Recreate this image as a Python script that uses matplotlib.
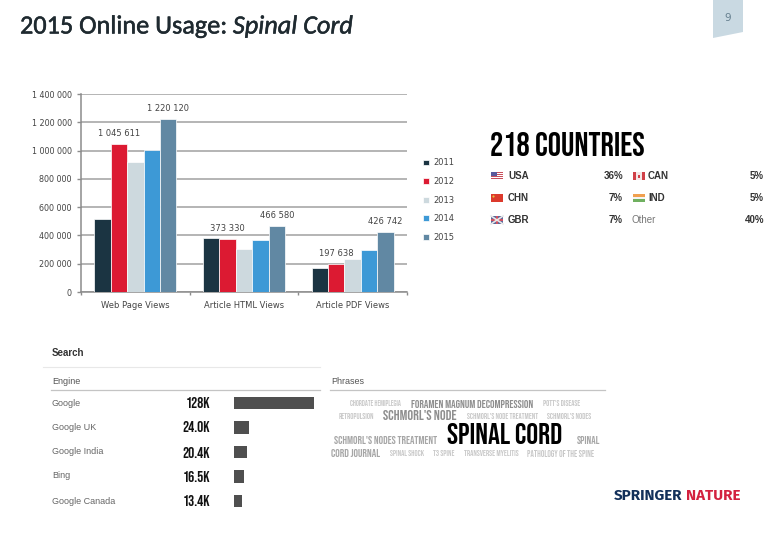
import matplotlib
matplotlib.use("Agg")
import matplotlib.pyplot as plt
import matplotlib.patheffects as pe
import numpy as np
from matplotlib.patches import Polygon, Rectangle, Circle
from matplotlib.ticker import FuncFormatter

W, H = 780, 540

# main chart
categories = ["Web Page Views", "Article HTML Views", "Article PDF Views"]
years = ["2011", "2012", "2013", "2014", "2015"]
views_2011 = [515000, 385000, 172000]
views_2012 = [1045611, 373330, 197638]
views_2013 = [920000, 305000, 235000]
views_2014 = [1005000, 365000, 298000]
views_2015 = [1220120, 466580, 426742]
y_ticks = [0, 200000, 400000, 600000, 800000, 1000000, 1200000, 1400000]
bar_colors = ["#1b3442", "#dc1a32", "#cdd9de", "#3d99d6", "#6188a3"]

# countries
country_title = "218 COUNTRIES"
countries_left = ["USA", "CHN", "GBR"]
shares_left = ["36%", "7%", "7%"]
countries_right = ["CAN", "IND", "Other"]
shares_right = ["5%", "5%", "40%"]

# search engines
engines = ["Google", "Google UK", "Google India", "Bing", "Google Canada"]
engine_hits = [128.0, 24.0, 20.4, 16.5, 13.4]
engine_labels = ["128K", "24.0K", "20.4K", "16.5K", "13.4K"]

# phrases, one list per row of the cloud
phrases_row1 = ["CHORDATE HEMIPLEGIA", "FORAMEN MAGNUM DECOMPRESSION", "POTT'S DISEASE"]
phrases_row2 = ["RETROPULSION", "SCHMORL'S NODE", "SCHMORL'S NODE TREATMENT", "SCHMORL'S NODES"]
phrases_row3 = ["SCHMORL'S NODES TREATMENT", "SPINAL CORD", "SPINAL"]
phrases_row4 = ["CORD JOURNAL", "SPINAL SHOCK", "T3 SPINE", "TRANSVERSE MYELITIS", "PATHOLOGY OF THE SPINE"]

NARROW = ["Bebas Neue", "Oswald", "Liberation Sans"]
TITLE_FONT = ["Carlito", "Lato"]
LOGO_FONT = ["Fira Sans", "Lato"]


def px_axes(fig, left, top, right, bottom):
    return fig.add_axes([left / W, 1 - bottom / H, (right - left) / W, (bottom - top) / H])


def fit_text(ax, fig, x0, x1, y, s, **kw):
    # shrink or grow the font until the string spans x0..x1 pixels
    t = ax.text(x0, y, s, va="center", ha="left", **kw)
    width = t.get_window_extent(fig.canvas.get_renderer()).width
    t.set_fontsize(t.get_fontsize() * (x1 - x0) / width)
    return t


def draw_flag(ax, name, x, y):
    w, h = 12, 8
    top = y - h / 2
    def rect(dx, dy, rw, rh, c):
        ax.add_patch(Rectangle((x + dx, top + dy), rw, rh, fc=c, ec="none"))
    if name == "USA":
        rect(0, 0, w, h, "#ffffff")
        for k in range(4):
            rect(0, k * 2, w, 1, "#c8505c")
        rect(0, 0, 5.5, 4, "#5a5a9c")
    elif name == "CHN":
        rect(0, 0, w, h, "#dc3a2c")
        ax.add_patch(Circle((x + 2.5, top + 2.5), 1.1, fc="#e8c040", ec="none"))
    elif name == "GBR":
        rect(0, 0, w, h, "#5a6a9c")
        ax.plot([x, x + w], [top, top + h], color="#e8e8e8", lw=1.2)
        ax.plot([x, x + w], [top + h, top], color="#e8e8e8", lw=1.2)
        rect(0, 3, w, 2, "#d05060")
        rect(5, 0, 2, h, "#d05060")
    elif name == "CAN":
        rect(0, 0, w, h, "#f4e8e8")
        rect(0, 0, 3, h, "#d04048")
        rect(9, 0, 3, h, "#d04048")
        rect(5, 2.5, 2, 3, "#d04048")
    elif name == "IND":
        rect(0, 0, w, 2.7, "#f0a050")
        rect(0, 2.7, w, 2.6, "#f4f4f4")
        rect(0, 5.3, w, 2.7, "#70b060")


def main() -> None:
    fig = plt.figure(figsize=(W / 100, H / 100), dpi=100, facecolor="white")
    fig.canvas.draw()

    # === grouped bars ===
    ax = px_axes(fig, 81, 94, 407, 292)
    series = [views_2011, views_2012, views_2013, views_2014, views_2015]
    bar_w = 0.151
    centers = np.arange(len(categories)) + 0.5
    for j, vals in enumerate(series):
        ax.bar(centers + (j - 2) * bar_w, vals, bar_w, color=bar_colors[j], label=years[j],
               edgecolor="white", linewidth=0.5, zorder=3)
    ax.set_xlim(0, 3)
    ax.set_ylim(0, 1400000)
    ax.set_yticks(y_ticks)
    ax.yaxis.set_major_formatter(FuncFormatter(lambda v, _: f"{int(v):,}".replace(",", " ")))
    ax.set_xticks([0, 1, 2, 3])
    ax.set_xticklabels([])
    ax.set_xticks(centers, categories, minor=True)
    ax.tick_params(axis="x", which="minor", length=0, labelsize=6, labelcolor="#444444", pad=6.5)
    ax.tick_params(axis="x", which="major", length=2.5, width=1, color="#8c8c8c")
    ax.tick_params(axis="y", length=3, width=1, color="#8c8c8c", labelsize=5.8, labelcolor="#444444", pad=3.5)
    ax.grid(axis="y", color="#a0a0a0", linewidth=1.1, zorder=1)
    ax.set_axisbelow(True)
    for side in ["top", "right"]:
        ax.spines[side].set_visible(False)
    for side in ["left", "bottom"]:
        ax.spines[side].set_color("#8c8c8c")
        ax.spines[side].set_linewidth(1.1)

    # data labels that the slide keeps, (group, year) with offsets in points
    for (g, j, dy) in [(0, 4, 4.8), (0, 1, 4.4), (1, 1, 4.2), (1, 4, 4.6), (2, 1, 4.2), (2, 4, 4.0)]:
        val = series[j][g]
        ax.annotate(f"{val:,}".replace(",", " "), (centers[g] + (j - 2) * bar_w, val),
                    xytext=(0, dy), textcoords="offset points", ha="center", va="bottom",
                    fontsize=6, color="#444444", annotation_clip=False)

    ax.legend(loc="center left", bbox_to_anchor=(423 / W, 1 - 200 / H), bbox_transform=fig.transFigure,
              frameon=False, fontsize=6, labelcolor="#444444", borderpad=0, borderaxespad=0,
              handlelength=0.7, handleheight=0.7, handletextpad=0.5, labelspacing=1.15)

    # === search bars ===
    sx = px_axes(fig, 234, 390.75, 314, 513.25)
    rows = np.arange(len(engines))
    sx.barh(rows, engine_hits, height=0.49, color="#4f4f4f")
    sx.set_xlim(0, max(engine_hits))
    sx.set_ylim(len(engines) - 0.5, -0.5)
    sx.axis("off")

    # === everything else sits on a pixel overlay ===
    ov = fig.add_axes([0, 0, 1, 1], zorder=5)
    ov.set_xlim(0, W)
    ov.set_ylim(H, 0)
    ov.axis("off")
    ov.patch.set_alpha(0)

    # regular face with a thin stroke, the slide's title sits between regular and bold
    stroke = [pe.withStroke(linewidth=0.35, foreground="#1f2a30")]
    title = fit_text(ov, fig, 20, 234, 26, "2015 Online Usage: ", fontsize=17, family=TITLE_FONT,
                     color="#1f2a30", path_effects=stroke)
    ov.annotate("Spinal Cord", xy=(1, 0.5), xycoords=title, va="center", ha="left",
                fontsize=title.get_fontsize(), family=TITLE_FONT, style="italic", color="#1f2a30",
                path_effects=stroke)

    # page tab
    ov.add_patch(Polygon([(713, 0), (743, 0), (743, 32), (713, 38)], fc="#c9d9e2", ec="none"))
    ov.text(727.5, 18, "9", fontsize=7.5, color="#66808f", ha="center", va="center")

    # countries
    fit_text(ov, fig, 490, 644, 144.5, country_title, fontsize=22, family=NARROW, color="black")
    for i, y in enumerate([176, 198, 220]):
        draw_flag(ov, countries_left[i], 491, y)
        ov.text(508, y, countries_left[i], fontsize=7, fontweight="bold", family="Liberation Sans",
                color="#333333", va="center")
        ov.text(623, y, shares_left[i], fontsize=7, fontweight="bold", family="Liberation Sans",
                color="#333333", va="center", ha="right")
        name = countries_right[i]
        if name != "Other":
            draw_flag(ov, name, 633, y)
            ov.text(648, y, name, fontsize=7, fontweight="bold", family="Liberation Sans",
                    color="#333333", va="center")
        else:
            ov.text(632, y, name, fontsize=7, family="Liberation Sans", color="#777777", va="center")
        ov.text(764, y, shares_right[i], fontsize=7, fontweight="bold", family="Liberation Sans",
                color="#333333", va="center", ha="right")

    # search table
    ov.text(52, 353, "Search", fontsize=7, fontweight="bold", family="Liberation Sans", color="#333333", va="center")
    ov.plot([43, 320], [367, 367], color="#e8e8e8", lw=0.8)
    ov.text(52, 382, "Engine", fontsize=6.5, family="Liberation Sans", color="#555555", va="center")
    ov.text(331, 382, "Phrases", fontsize=6.5, family="Liberation Sans", color="#555555", va="center")
    ov.plot([51, 320], [390, 390], color="#c4c4c4", lw=0.9)
    ov.plot([330, 605], [390, 390], color="#c4c4c4", lw=0.9)
    for i, y in enumerate([403, 427, 452, 476, 501]):
        ov.text(52, y, engines[i], fontsize=6.5, family="Liberation Sans", color="#666666", va="center")
        ov.text(210, y, engine_labels[i], fontsize=11, family=NARROW,
                color="#111111", va="center", ha="right")

    # phrase cloud
    light, mid, dark = "#c8c8c8", "#a6a6a6", "#8e8e8e"
    cloud = [
        (phrases_row1[0], 350, 402, 403.5, light),
        (phrases_row1[1], 411, 533, 403.5, dark),
        (phrases_row1[2], 543, 580, 403.5, light),
        (phrases_row2[0], 339, 374, 416, light),
        (phrases_row2[1], 383, 457, 415.5, dark),
        (phrases_row2[2], 467, 537, 416, light),
        (phrases_row2[3], 547, 591, 416, light),
        (phrases_row3[0], 334, 437, 440, mid),
        (phrases_row3[1], 447, 563, 433, "#000000"),
        (phrases_row3[2], 577, 600, 440, mid),
        (phrases_row4[0], 331, 380, 453, mid),
        (phrases_row4[1], 390, 424, 453.5, light),
        (phrases_row4[2], 433, 454, 453.5, light),
        (phrases_row4[3], 464, 518, 453.5, light),
        (phrases_row4[4], 527, 594, 453.5, light),
    ]
    for s, x0, x1, y, c in cloud:
        fit_text(ov, fig, x0, x1, y, s, fontsize=7, family=NARROW, color=c)

    # logo
    fit_text(ov, fig, 614, 682, 496, "SPRINGER", fontsize=10, family=LOGO_FONT, fontweight="bold", color="#12305a")
    fit_text(ov, fig, 686, 740, 496, "NATURE", fontsize=10, family=LOGO_FONT, fontweight="bold", color="#d3213f")

    fig.savefig("out.png", dpi=100)


if __name__ == "__main__":
    main()
